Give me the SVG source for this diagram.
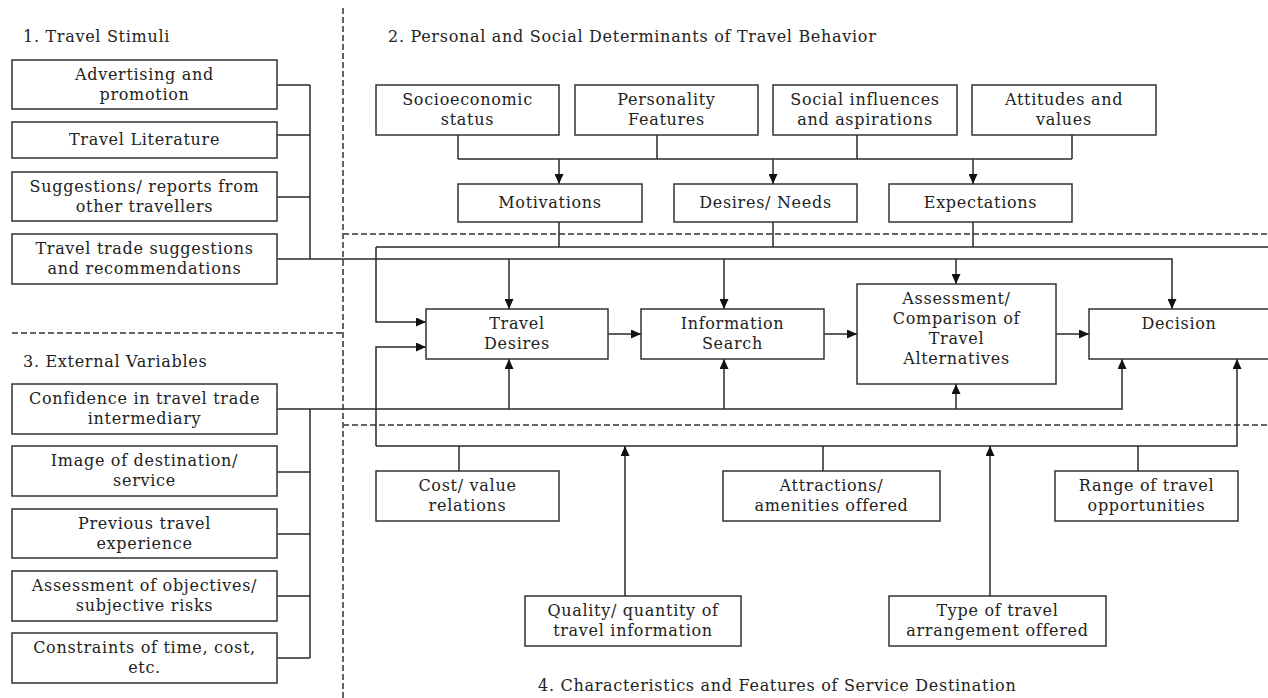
<svg xmlns="http://www.w3.org/2000/svg" width="1268" height="698" viewBox="0 0 1268 698">
  <style>
    .box { fill: #fff; stroke: #333; stroke-width: 1.5; }
    .t { font-family: "DejaVu Serif", "Liberation Serif", serif; font-size: 16px; letter-spacing: 0.7px; fill: #222; text-anchor: middle; }
    .h { font-family: "DejaVu Serif", "Liberation Serif", serif; font-size: 16px; letter-spacing: 0.7px; fill: #222; }
    .ln { fill: none; stroke: #2a2a2a; stroke-width: 1.5; }
    .arr { fill: none; stroke: #2a2a2a; stroke-width: 1.5; marker-end: url(#tip); }
    .dash { fill: none; stroke: #666; stroke-width: 2; stroke-dasharray: 6 3; }
  </style>
  <defs>
    <marker id="tip" viewBox="0 0 10 9" refX="10" refY="4.5" markerWidth="10" markerHeight="9" markerUnits="userSpaceOnUse" orient="auto">
      <path d="M0,0 L10,4.5 L0,9 z" fill="#111"/>
    </marker>
  </defs>
  <rect width="1268" height="698" fill="#fff"/>

  <!-- section dividers -->
  <g id="dividers">
    <path class="dash" d="M343,8 V698"/>
    <path class="dash" d="M12,333 H343"/>
    <path class="dash" d="M343,234 H1268"/>
    <path class="dash" d="M343,425 H1268"/>
  </g>

  <!-- section headings -->
  <g id="headings">
    <text class="h" x="23" y="42">1. Travel Stimuli</text>
    <text class="h" x="23" y="367">3. External Variables</text>
    <text class="h" x="388" y="42">2. Personal and Social Determinants of Travel Behavior</text>
    <text class="h" x="538" y="691">4. Characteristics and Features of Service Destination</text>
  </g>

  <g id="connectors">
    <!-- travel stimuli bus -->
    <path class="ln" d="M277,85 H310 M277,135 H310 M277,197 H310 M310,85 V259"/>
    <path class="arr" d="M277,259 H1172 V309"/>
    <path class="arr" d="M509,259 V309"/>
    <path class="arr" d="M724,259 V309"/>
    <path class="arr" d="M956,259 V284"/>
    <!-- external variables bus -->
    <path class="ln" d="M277,472 H310 M277,534 H310 M277,596 H310 M277,658 H310 M310,409 V658"/>
    <path class="arr" d="M277,409 H1122 V359"/>
    <path class="arr" d="M509,409 V359"/>
    <path class="arr" d="M724,409 V359"/>
    <path class="arr" d="M956,409 V384"/>
    <!-- determinants -->
    <path class="ln" d="M458,135 V159 M657,135 V159 M857,135 V159 M1072,135 V159 M458,159 H1072"/>
    <path class="arr" d="M559,159 V184"/>
    <path class="arr" d="M773,159 V184"/>
    <path class="arr" d="M973,159 V184"/>
    <path class="ln" d="M559,222 V247 M773,222 V247 M973,222 V247 M376,247 H1268"/>
    <path class="arr" d="M376,247 V322 H426"/>
    <!-- destination characteristics -->
    <path class="ln" d="M459,471 V446 M823,471 V446 M1138,471 V446"/>
    <path class="arr" d="M376,446 V347 H426"/>
    <path class="arr" d="M376,446 H1237 V359"/>
    <path class="arr" d="M625,596 V446"/>
    <path class="arr" d="M990,596 V446"/>
    <!-- decision process -->
    <path class="arr" d="M608,334 H641"/>
    <path class="arr" d="M824,334 H857"/>
    <path class="arr" d="M1056,334 H1089"/>
  </g>

  <!-- 1. travel stimuli -->
  <g id="advertising">
    <rect class="box" x="12" y="60" width="265" height="49"/>
    <text class="t" x="144.5" y="79.5">Advertising and</text>
    <text class="t" x="144.5" y="99.5">promotion</text>
  </g>
  <g id="literature">
    <rect class="box" x="12" y="122" width="265" height="36"/>
    <text class="t" x="144.5" y="145">Travel Literature</text>
  </g>
  <g id="suggestions">
    <rect class="box" x="12" y="172" width="265" height="49"/>
    <text class="t" x="144.5" y="191.5">Suggestions/ reports from</text>
    <text class="t" x="144.5" y="211.5">other travellers</text>
  </g>
  <g id="trade-suggestions">
    <rect class="box" x="12" y="234" width="265" height="50"/>
    <text class="t" x="144.5" y="254">Travel trade suggestions</text>
    <text class="t" x="144.5" y="274">and recommendations</text>
  </g>

  <!-- 3. external variables -->
  <g id="confidence">
    <rect class="box" x="12" y="384" width="265" height="50"/>
    <text class="t" x="144.5" y="404">Confidence in travel trade</text>
    <text class="t" x="144.5" y="424">intermediary</text>
  </g>
  <g id="image">
    <rect class="box" x="12" y="446" width="265" height="50"/>
    <text class="t" x="144.5" y="466">Image of destination/</text>
    <text class="t" x="144.5" y="486">service</text>
  </g>
  <g id="experience">
    <rect class="box" x="12" y="509" width="265" height="49"/>
    <text class="t" x="144.5" y="528.5">Previous travel</text>
    <text class="t" x="144.5" y="548.5">experience</text>
  </g>
  <g id="risks">
    <rect class="box" x="12" y="571" width="265" height="50"/>
    <text class="t" x="144.5" y="591">Assessment of objectives/</text>
    <text class="t" x="144.5" y="611">subjective risks</text>
  </g>
  <g id="constraints">
    <rect class="box" x="12" y="633" width="265" height="50"/>
    <text class="t" x="144.5" y="653">Constraints of time, cost,</text>
    <text class="t" x="144.5" y="673">etc.</text>
  </g>

  <!-- 2. personal and social determinants -->
  <g id="socioeconomic">
    <rect class="box" x="376" y="85" width="183" height="50"/>
    <text class="t" x="467.5" y="105">Socioeconomic</text>
    <text class="t" x="467.5" y="125">status</text>
  </g>
  <g id="personality">
    <rect class="box" x="575" y="85" width="183" height="50"/>
    <text class="t" x="666.5" y="105">Personality</text>
    <text class="t" x="666.5" y="125">Features</text>
  </g>
  <g id="social">
    <rect class="box" x="773" y="85" width="184" height="50"/>
    <text class="t" x="865" y="105">Social influences</text>
    <text class="t" x="865" y="125">and aspirations</text>
  </g>
  <g id="attitudes">
    <rect class="box" x="972" y="85" width="184" height="50"/>
    <text class="t" x="1064" y="105">Attitudes and</text>
    <text class="t" x="1064" y="125">values</text>
  </g>
  <g id="motivations">
    <rect class="box" x="458" y="184" width="184" height="38"/>
    <text class="t" x="550" y="208">Motivations</text>
  </g>
  <g id="desires-needs">
    <rect class="box" x="674" y="184" width="183" height="38"/>
    <text class="t" x="765.5" y="208">Desires/ Needs</text>
  </g>
  <g id="expectations">
    <rect class="box" x="889" y="184" width="183" height="38"/>
    <text class="t" x="980.5" y="208">Expectations</text>
  </g>

  <!-- decision process -->
  <g id="travel-desires">
    <rect class="box" x="426" y="309" width="182" height="50"/>
    <text class="t" x="517" y="329">Travel</text>
    <text class="t" x="517" y="349">Desires</text>
  </g>
  <g id="information-search">
    <rect class="box" x="641" y="309" width="183" height="50"/>
    <text class="t" x="732.5" y="329">Information</text>
    <text class="t" x="732.5" y="349">Search</text>
  </g>
  <g id="assessment">
    <rect class="box" x="857" y="284" width="199" height="100"/>
    <text class="t" x="956.5" y="304">Assessment/</text>
    <text class="t" x="956.5" y="324">Comparison of</text>
    <text class="t" x="956.5" y="344">Travel</text>
    <text class="t" x="956.5" y="364">Alternatives</text>
  </g>
  <g id="decision">
    <rect class="box" x="1089" y="309" width="190" height="50"/>
    <text class="t" x="1179" y="329">Decision</text>
  </g>

  <!-- 4. characteristics of service destination -->
  <g id="cost-value">
    <rect class="box" x="376" y="471" width="183" height="50"/>
    <text class="t" x="467.5" y="491">Cost/ value</text>
    <text class="t" x="467.5" y="511">relations</text>
  </g>
  <g id="attractions">
    <rect class="box" x="723" y="471" width="217" height="50"/>
    <text class="t" x="831.5" y="491">Attractions/</text>
    <text class="t" x="831.5" y="511">amenities offered</text>
  </g>
  <g id="range">
    <rect class="box" x="1055" y="471" width="183" height="50"/>
    <text class="t" x="1146.5" y="491">Range of travel</text>
    <text class="t" x="1146.5" y="511">opportunities</text>
  </g>
  <g id="quality">
    <rect class="box" x="525" y="596" width="216" height="50"/>
    <text class="t" x="633" y="616">Quality/ quantity of</text>
    <text class="t" x="633" y="636">travel information</text>
  </g>
  <g id="arrangement">
    <rect class="box" x="889" y="596" width="217" height="50"/>
    <text class="t" x="997.5" y="616">Type of travel</text>
    <text class="t" x="997.5" y="636">arrangement offered</text>
  </g>
</svg>
